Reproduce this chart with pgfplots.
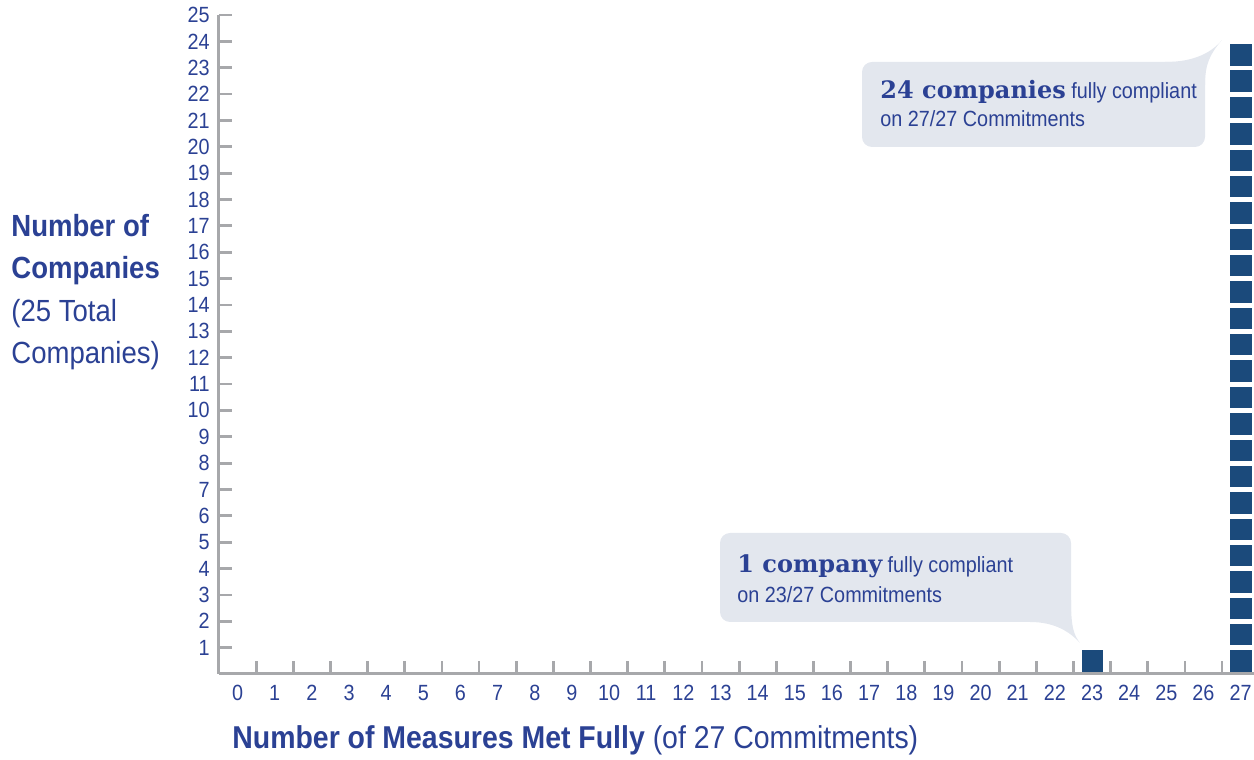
\documentclass[border=0pt]{standalone}
\usepackage{pgfplots}
\pgfplotsset{compat=1.18}
\usepackage{fontspec}
\setmainfont{Liberation Sans}[FakeStretch=0.9]
\newfontfamily\slab{DejaVu Serif}
\definecolor{txtblue}{HTML}{2B4194}
\definecolor{sqblue}{HTML}{1B4A7B}
\definecolor{axgray}{HTML}{A7A8AB}
\definecolor{bubble}{HTML}{E3E7EE}
\begin{document}
\begin{tikzpicture}
\begin{axis}[
  at={(0,0)}, anchor=south west,
  scale only axis, width=517.5pt, height=329.5pt,
  xmin=-0.5, xmax=27.36, ymin=0, ymax=25,
  axis x line=bottom, axis y line=left,
  axis line style={axgray, line width=1.5pt, -},
  xtick={0,...,27},
  minor xtick={0.5,1.5,...,26.5},
  ytick={1,...,25},
  tick align=inside,
  major tick length=6.5pt, minor tick length=6.5pt,
  tick style={axgray, line width=1.4pt},
  major x tick style={draw=none},
  xticklabel style={font=\fontsize{11}{13}\selectfont, text=txtblue, anchor=north, inner sep=0pt, yshift=-5.5pt},
  yticklabel style={font=\fontsize{11}{13}\selectfont, text=txtblue, anchor=east, inner sep=0pt, xshift=-4.5pt},
  /pgf/number format/assume math mode=true,
  clip=false,
]
\addplot[only marks, color=sqblue, mark=square*, mark size=5.1pt, mark options={fill=sqblue, draw=sqblue, line width=0.2pt}] table {
x y
23 0.5
27 0.5
27 1.5
27 2.5
27 3.5
27 4.5
27 5.5
27 6.5
27 7.5
27 8.5
27 9.5
27 10.5
27 11.5
27 12.5
27 13.5
27 14.5
27 15.5
27 16.5
27 17.5
27 18.5
27 19.5
27 20.5
27 21.5
27 22.5
27 23.5
};
\end{axis}
\begin{scope}[x=0.5pt, y=-0.5pt, shift={(-109.5pt,337pt)}]
  % bubble 1
  \fill[bubble, rounded corners=5pt] (862,62) rectangle (1205,147);
  \fill[bubble] (1165,62) .. controls (1195,62) and (1212,52) .. (1222,40)
     .. controls (1210,54) and (1205,64) .. (1205,85) -- (1165,85) -- cycle;
  % bubble 2
  \fill[bubble, rounded corners=5pt] (720,533) rectangle (1071,622);
  \fill[bubble] (1030,622) .. controls (1055,622) and (1070,632) .. (1080,643)
     .. controls (1074,635) and (1071,628) .. (1071,600) -- (1030,600) -- cycle;
  \begin{scope}[every node/.style={anchor=base west, inner sep=0pt, text=txtblue}]
    \node[font=\fontsize{11}{13}\selectfont] at (880,99) {{\slab\bfseries\fontsize{12}{14}\selectfont 24 companies} fully compliant};
    \node[font=\fontsize{11}{13}\selectfont] at (880,127) {on 27/27 Commitments};
    \node[font=\fontsize{11}{13}\selectfont] at (737,573) {{\slab\bfseries\fontsize{12}{14}\selectfont 1 company} fully compliant};
    \node[font=\fontsize{11}{13}\selectfont] at (737,603) {on 23/27 Commitments};
    \node[font=\fontsize{15.3}{18}\selectfont\bfseries] at (11,237) {Number of};
    \node[font=\fontsize{15.3}{18}\selectfont\bfseries] at (11,279) {Companies};
    \node[font=\fontsize{15.3}{18}\selectfont] at (11,322) {(25 Total};
    \node[font=\fontsize{15.3}{18}\selectfont] at (11,364) {Companies)};
    \node[font=\fontsize{15.8}{18}\selectfont] at (232,749) {{\bfseries Number of Measures Met Fully} (of 27 Commitments)};
  \end{scope}
  \pgfresetboundingbox
  \path[use as bounding box] (0,0) rectangle (1254,760);
\end{scope}
\end{tikzpicture}
\end{document}
